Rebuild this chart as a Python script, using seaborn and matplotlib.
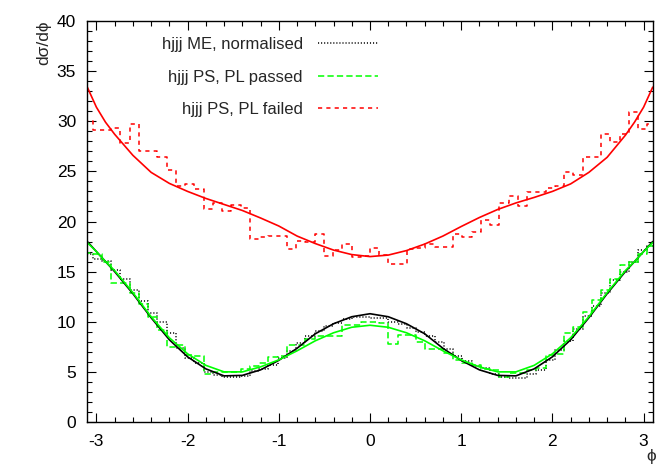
import numpy as np
import pandas as pd
import seaborn as sns
import matplotlib.pyplot as plt
from matplotlib.ticker import MultipleLocator

# histogram bins: 62 bins over [-pi, pi]
bin_edges = np.linspace(-np.pi, np.pi, 63)

me_hist = [16.8, 16.3, 16.1, 15.2, 14.3, 13.2, 12.1, 10.9, 10.0, 8.9,
           7.4, 6.4, 5.9, 5.0, 4.7, 4.45, 4.45, 4.6, 5.1, 5.3,
           5.7, 6.4, 7.1, 7.9, 8.6, 9.1, 9.6, 9.9, 10.3, 10.5,
           10.5, 10.4, 10.4, 10.0, 9.8, 9.4, 9.0, 8.6, 8.0, 7.3,
           6.6, 6.1, 5.6, 5.4, 4.8, 4.5, 4.4, 4.4, 4.8, 5.2,
           6.2, 7.2, 8.1, 9.3, 10.6, 11.6, 12.9, 14.2, 15.0, 16.0,
           17.2, 17.6]

passed_hist = [16.9, 16.8, 16.0, 13.9, 13.9, 12.9, 11.8, 10.45, 9.2, 7.5,
               7.7, 6.7, 6.6, 4.8, 5.0, 5.0, 5.0, 5.3, 5.6, 5.85,
               6.5, 6.6, 7.7, 7.7, 8.3, 8.6, 8.6, 8.55, 9.7, 9.7,
               10.0, 10.0, 9.9, 7.8, 8.7, 8.7, 8.0, 7.25, 7.25, 6.85,
               6.2, 5.9, 5.7, 5.3, 5.2, 4.5, 4.9, 4.9, 5.2, 5.4,
               6.7, 6.8, 8.85, 9.5, 11.0, 12.2, 13.2, 14.3, 15.7, 16.0,
               16.8, 17.6]

failed_hist = [30.0, 29.1, 29.1, 29.3, 27.8, 29.7, 27.0, 27.0, 26.4, 25.15,
               23.55, 23.7, 23.25, 21.2, 21.8, 21.0, 21.65, 21.3, 18.3, 18.5,
               18.6, 18.55, 17.3, 18.1, 18.0, 18.8, 16.55, 17.15, 17.75, 16.5,
               16.55, 17.4, 16.65, 15.75, 15.75, 17.3, 17.35, 17.75, 17.5, 17.5,
               18.8, 18.5, 19.0, 20.15, 19.65, 21.8, 22.5, 21.5, 22.97, 22.97,
               23.3, 23.5, 24.97, 24.6, 26.4, 26.4, 28.7, 27.96, 28.7, 30.95,
               29.2, 29.7]

# smooth fit curves
curve_x = [-3.1, -3.0, -2.9, -2.8, -2.6, -2.4, -2.2, -2.0, -1.8, -1.6, -1.4, -1.2,
           -1.0, -0.8, -0.6, -0.4, -0.2, 0.0, 0.2, 0.4, 0.6, 0.8, 1.0, 1.2,
           1.4, 1.6, 1.8, 2.0, 2.2, 2.4, 2.6, 2.8, 2.9, 3.0, 3.1]
me_curve = [18.0, 17.0, 16.0, 15.0, 12.8, 10.4, 8.2, 6.5, 5.3, 4.6, 4.65, 5.2,
            6.15, 7.35, 8.8, 9.8, 10.5, 10.8, 10.5, 9.8, 8.8, 7.35, 6.15, 5.2,
            4.65, 4.6, 5.3, 6.5, 8.2, 10.4, 12.8, 15.0, 16.0, 17.0, 18.0]
passed_curve = [17.9, 17.0, 16.0, 15.1, 12.9, 10.5, 8.4, 6.8, 5.65, 5.0, 5.0, 5.5,
                6.2, 7.1, 8.1, 8.9, 9.45, 9.65, 9.45, 8.9, 8.1, 7.1, 6.2, 5.5,
                5.0, 5.0, 5.65, 6.8, 8.4, 10.5, 12.9, 15.1, 16.0, 17.0, 17.9]
failed_curve = [33.4, 31.4, 29.9, 28.7, 26.6, 24.9, 23.8, 23.0, 22.3, 21.7, 21.1, 20.35,
                19.55, 18.55, 17.8, 17.15, 16.7, 16.5, 16.65, 17.1, 17.75, 18.55, 19.5, 20.4,
                21.2, 21.85, 22.4, 23.0, 23.75, 24.9, 26.4, 28.6, 29.9, 31.4, 33.4]

labels = ["hjjj ME, normalised", "hjjj PS, PL passed", "hjjj PS, PL failed"]

sns.set_theme(style="ticks")
plt.rcParams["font.family"] = ["Liberation Sans", "DejaVu Sans"]
plt.rcParams["axes.unicode_minus"] = False
plt.rcParams["lines.scale_dashes"] = False

fig = plt.figure(figsize=(6.71, 4.71), dpi=100)
ax = fig.add_axes([87.3 / 671, 49 / 471, 565.4 / 671, 401 / 471])


def hist_frame(vals):
    return pd.DataFrame({"x": bin_edges, "y": list(vals) + [vals[-1]]})


curves = pd.DataFrame({"x": curve_x, "me": me_curve,
                       "passed": passed_curve, "failed": failed_curve})

sns.lineplot(data=hist_frame(me_hist), x="x", y="y", drawstyle="steps-post",
             color="black", lw=1.1, linestyle=(0, (0.8, 1.4)), label=labels[0], ax=ax)
sns.lineplot(data=hist_frame(passed_hist), x="x", y="y", drawstyle="steps-post",
             color="#00ff00", lw=1.1, linestyle=(0, (4.5, 2.3)), label=labels[1], ax=ax)
sns.lineplot(data=hist_frame(failed_hist), x="x", y="y", drawstyle="steps-post",
             color="#ff0000", lw=1.1, linestyle=(0, (3, 3)), label=labels[2], ax=ax)

sns.lineplot(data=curves, x="x", y="me", color="black", lw=1.2, ax=ax)
sns.lineplot(data=curves, x="x", y="passed", color="#00ff00", lw=1.2, ax=ax)
sns.lineplot(data=curves, x="x", y="failed", color="#ff0000", lw=1.2, ax=ax)

ax.set_xlim(-3.1, 3.1)
ax.set_ylim(0, 40)
ax.xaxis.set_major_locator(MultipleLocator(1))
ax.xaxis.set_minor_locator(MultipleLocator(0.2))
ax.yaxis.set_major_locator(MultipleLocator(5))
ax.yaxis.set_minor_locator(MultipleLocator(1))
ax.tick_params(which="both", direction="in", top=True, right=True,
               color="black", width=0.8, labelsize=12.5, labelcolor="black")
ax.tick_params(which="major", length=6.5)
ax.tick_params(which="minor", length=3.3)
ax.tick_params(axis="x", pad=9)
ax.tick_params(axis="y", pad=8)
for s in ax.spines.values():
    s.set_color("black")
    s.set_linewidth(1.0)

ax.set_xlabel("ϕ", fontsize=12.5)
ax.xaxis.set_label_coords(0.998, -0.068)
ax.set_ylabel("dσ/dϕ", fontsize=12.5)
ax.yaxis.set_label_coords(-0.063, 0.945)

ax.legend(loc="upper right", bbox_to_anchor=(0.514, 0.96), frameon=False,
          markerfirst=False, fontsize=12, handlelength=3.6, handletextpad=0.9,
          labelspacing=1.05, borderaxespad=0, borderpad=0)

fig.savefig("out.png", dpi=100)
